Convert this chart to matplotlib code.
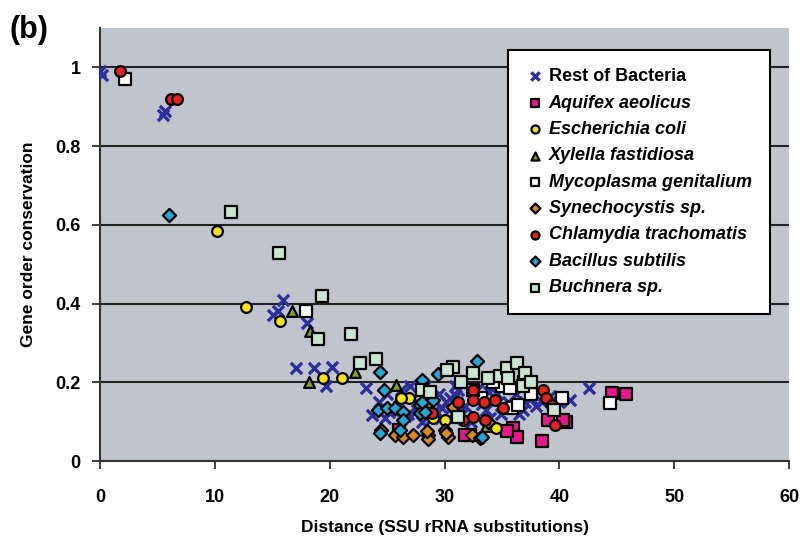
import matplotlib
matplotlib.use("Agg")
import matplotlib.pyplot as plt

plt.rcParams['font.family'] = ['Liberation Sans', 'DejaVu Sans']
plt.rcParams['font.weight'] = 'bold'

# series values (x = distance, y = gene order conservation)
rest_x = [0.0, 0.2, 5.5, 5.7, 15.1, 15.5, 15.9, 18.0, 17.1, 18.6, 20.2, 19.7, 23.2, 23.7,
          24.3, 25.0, 25.5, 26.2, 26.8, 27.3, 27.8, 28.3, 28.9, 29.5, 30.1, 30.7, 31.2,
          31.8, 32.3, 33.0, 33.6, 34.2, 34.9, 35.5, 36.2, 36.8, 37.5, 38.0, 40.9, 42.6,
          24.8, 26.0, 27.0, 28.0, 29.2, 30.5, 31.5, 32.8, 34.0, 35.0, 36.5, 38.5,
          25.2, 26.6, 27.6, 29.8, 31.0, 33.3, 34.6, 37.0, 39.2, 40.0, 28.6, 30.9, 33.9]
rest_y = [0.99, 0.98, 0.88, 0.89, 0.37, 0.38, 0.41, 0.35, 0.237, 0.237, 0.24, 0.19, 0.186, 0.117,
          0.15, 0.17, 0.13, 0.18, 0.12, 0.16, 0.14, 0.19, 0.11, 0.17, 0.15, 0.12, 0.18,
          0.14, 0.10, 0.16, 0.13, 0.19, 0.12, 0.15, 0.17, 0.13, 0.16, 0.14, 0.155, 0.186,
          0.11, 0.14, 0.19, 0.10, 0.13, 0.16, 0.12, 0.18, 0.11, 0.14, 0.12, 0.15,
          0.125, 0.115, 0.13, 0.135, 0.165, 0.145, 0.17, 0.15, 0.165, 0.15, 0.17, 0.19, 0.175]

aquifex_x = [44.6, 45.8, 40.6, 39.0, 38.5, 36.0, 36.3, 35.4, 32.2, 31.8, 26.0, 40.3]
aquifex_y = [0.173, 0.171, 0.10, 0.105, 0.05, 0.085, 0.06, 0.075, 0.066, 0.066, 0.08, 0.105]

ecoli_x = [10.2, 12.7, 15.7, 19.4, 21.1, 26.9, 30.0, 26.2, 34.5, 29.0]
ecoli_y = [0.584, 0.39, 0.355, 0.21, 0.21, 0.16, 0.105, 0.16, 0.085, 0.11]

xylella_x = [16.7, 18.3, 18.2, 22.2, 25.8, 28.5, 31.0, 33.6, 35.5]
xylella_y = [0.38, 0.33, 0.20, 0.227, 0.194, 0.15, 0.13, 0.09, 0.14]

myco_x = [2.2, 17.9, 35.0, 35.9, 36.4, 35.7, 40.2, 44.4, 34.2, 36.9, 37.5, 33.2, 32.5]
myco_y = [0.97, 0.38, 0.19, 0.135, 0.143, 0.186, 0.16, 0.148, 0.20, 0.20, 0.17, 0.16, 0.18]

syn_x = [25.7, 26.4, 27.3, 28.6, 28.6, 30.0, 30.3, 32.4, 28.5, 30.1, 33.1, 30.7, 24.5, 33.8]
syn_y = [0.066, 0.06, 0.066, 0.066, 0.055, 0.08, 0.06, 0.066, 0.075, 0.07, 0.059, 0.138, 0.08, 0.10]

chlam_x = [1.7, 6.2, 6.7, 28.9, 32.5, 32.5, 32.5, 33.5, 33.4, 34.4, 35.1, 31.6, 38.6, 38.8, 39.4, 39.6, 31.2]
chlam_y = [0.99, 0.92, 0.92, 0.122, 0.18, 0.156, 0.113, 0.105, 0.15, 0.155, 0.135, 0.105, 0.18, 0.16, 0.143, 0.092, 0.15]

bacillus_x = [6.0, 24.4, 24.7, 24.2, 24.4, 28.0, 25.0, 25.7, 26.4, 27.9, 27.9, 29.4, 32.8, 26.1, 26.4,
              28.0, 28.3, 29.0, 33.3]
bacillus_y = [0.625, 0.225, 0.18, 0.13, 0.07, 0.207, 0.135, 0.135, 0.125, 0.143, 0.122, 0.22, 0.253, 0.08, 0.105,
              0.15, 0.125, 0.155, 0.06]

buch_x = [11.4, 15.6, 19.3, 19.0, 21.9, 22.6, 24.0, 28.0, 28.7, 30.7, 30.2, 31.4, 32.5, 33.8, 34.8,
          35.4, 36.3, 37.0, 36.8, 31.2, 39.5, 35.5, 37.5]
buch_y = [0.633, 0.528, 0.42, 0.31, 0.323, 0.25, 0.258, 0.18, 0.176, 0.24, 0.232, 0.20, 0.224, 0.21, 0.215,
          0.237, 0.25, 0.224, 0.19, 0.113, 0.13, 0.21, 0.20]

fig = plt.figure(figsize=(8.09, 5.47), dpi=100)
ax = fig.add_axes([0.1236, 0.1572, 0.8517, 0.7916])
ax.set_facecolor('#c0c4cc')

ax.scatter(rest_x, rest_y, marker='x', s=65, c='#2b2f9c', linewidths=2.4, label='Rest of Bacteria', zorder=3)
ax.scatter(aquifex_x, aquifex_y, marker='s', s=65, c='#e8188c', edgecolors='black', linewidths=1.6,
           label='Aquifex aeolicus', zorder=4)
ax.scatter(ecoli_x, ecoli_y, marker='o', s=60, c='#f5e414', edgecolors='black', linewidths=1.6,
           label='Escherichia coli', zorder=4)
ax.scatter(xylella_x, xylella_y, marker='^', s=60, c='#8aa020', edgecolors='black', linewidths=1.6,
           label='Xylella fastidiosa', zorder=4)
ax.scatter(myco_x, myco_y, marker='s', s=65, c='white', edgecolors='black', linewidths=1.6,
           label='Mycoplasma genitalium', zorder=4)
ax.scatter(syn_x, syn_y, marker='D', s=45, c='#d88a20', edgecolors='black', linewidths=1.6,
           label='Synechocystis sp.', zorder=4)
ax.scatter(chlam_x, chlam_y, marker='o', s=60, c='#e82020', edgecolors='black', linewidths=1.6,
           label='Chlamydia trachomatis', zorder=4)
ax.scatter(bacillus_x, bacillus_y, marker='D', s=45, c='#20a8d8', edgecolors='black', linewidths=1.6,
           label='Bacillus subtilis', zorder=4)
ax.scatter(buch_x, buch_y, marker='s', s=65, c='#c8e6d2', edgecolors='black', linewidths=1.6,
           label='Buchnera sp.', zorder=4)

ax.set_xlim(0, 60)
ax.set_ylim(0, 1.1)
ax.set_xticks(range(0, 61, 10))
ax.set_yticks([0, 0.2, 0.4, 0.6, 0.8, 1.0])
ax.set_yticklabels(['0', '0.2', '0.4', '0.6', '0.8', '1'])
ax.yaxis.grid(True, color='#222222', linewidth=1.5)
ax.set_axisbelow(True)
for s in ['top', 'right']:
    ax.spines[s].set_visible(False)
for s in ['left', 'bottom']:
    ax.spines[s].set_color('#333333')
    ax.spines[s].set_linewidth(1.5)
ax.tick_params(axis='both', labelsize=13, length=6, width=1.3, color='#333333')
ax.tick_params(axis='x', pad=14)
ax.tick_params(axis='y', pad=8)

ax.set_xlabel('Distance (SSU rRNA substitutions)', fontsize=12.5, fontweight='bold', labelpad=10)
ax.set_ylabel('Gene order conservation', fontsize=12.5, fontweight='bold', labelpad=14)

fig.text(0.012, 0.93, '(b)', fontsize=22, fontweight='bold')

leg = ax.legend(loc='upper right', bbox_to_anchor=(0.972, 0.949), borderaxespad=0, fontsize=13,
                frameon=True, fancybox=False, edgecolor='black', framealpha=1, handletextpad=0.25,
                borderpad=1.0, labelspacing=0.52, handlelength=1.0, markerscale=0.75)
leg.get_frame().set_linewidth(1.5)
for i, t in enumerate(leg.get_texts()):
    t.set_fontweight('bold')
    if i > 0:
        t.set_fontstyle('italic')

fig.savefig('out.png', dpi=100)
